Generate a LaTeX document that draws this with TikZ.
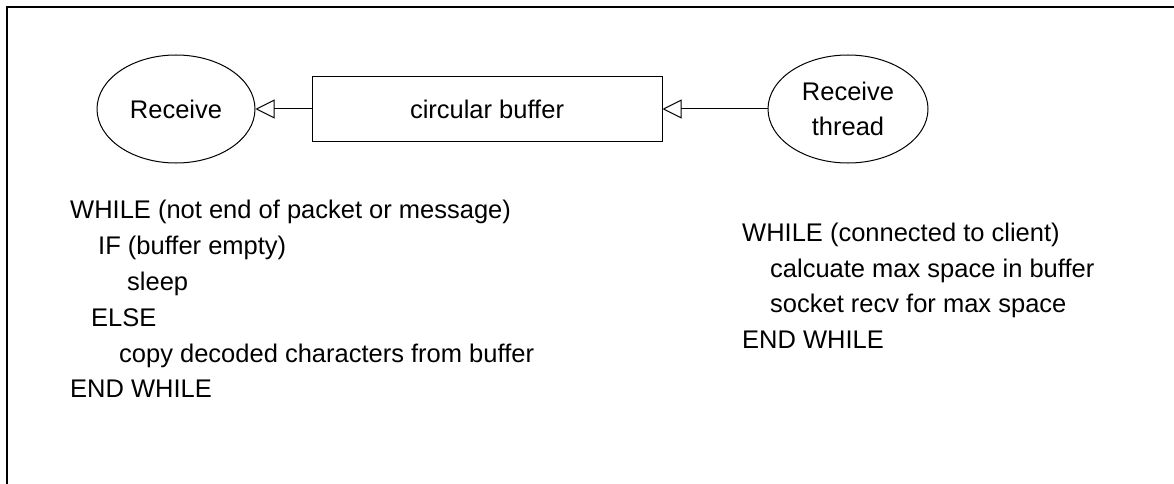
\documentclass[tikz,border=0pt]{standalone}
\usepackage{fontspec}
\setmainfont{Liberation Sans}
\usetikzlibrary{shapes.geometric,arrows.meta}

\tikzset{
  proc/.style={draw, line width=1pt, ellipse, inner sep=0pt,
               minimum height=108pt, align=center},
  store/.style={draw, line width=1pt, rectangle, inner sep=0pt,
                minimum width=350pt, minimum height=65pt},
  flow/.style={line width=1pt,
               -{Triangle[open, length=19pt, width=19pt, line width=1pt]}},
  code/.style={anchor=base west, inner sep=0pt},
  frameline/.style={line width=2.2pt},
}

\begin{document}
\begin{tikzpicture}[x=1pt, y=-1pt,
  every node/.style={font=\fontsize{25.5pt}{35pt}\selectfont}]
  \useasboundingbox (0,0) rectangle (1174,484);

  % outer frame (top and left edges)
  \coordinate (fc) at (7,7);
  \coordinate (ft) at (1174,7);
  \coordinate (fl) at (7,484);
  \draw[frameline] (ft) -- (fc) -- (fl);

  % processes and the shared buffer
  \node[proc, minimum width=158pt] (recv) at (176,109) {Receive};
  \node[store] (buf) at (487,109) {circular buffer};
  \node[proc, minimum width=160pt] (thr) at (848,109) {Receive\\thread};

  \draw[flow] (buf.west) -- (recv.east);
  \draw[flow] (thr.west) -- (buf.east);

  % pseudo code of the reader
  \node[code] (l1) at (70,218)  {WHILE (not end of packet or message)};
  \node[code] (l2) at (98,254)  {IF (buffer empty)};
  \node[code] (l3) at (127,290) {sleep};
  \node[code] (l4) at (91,326)  {ELSE};
  \node[code] (l5) at (119,362) {copy decoded characters from buffer};
  \node[code] (l6) at (70,397)  {END WHILE};

  % pseudo code of the receive thread
  \node[code] (r1) at (742,241) {WHILE (connected to client)};
  \node[code] (r2) at (770,277) {calcuate max space in buffer};
  \node[code] (r3) at (770,312) {socket recv for max space};
  \node[code] (r4) at (742,348) {END WHILE};
\end{tikzpicture}
\end{document}
